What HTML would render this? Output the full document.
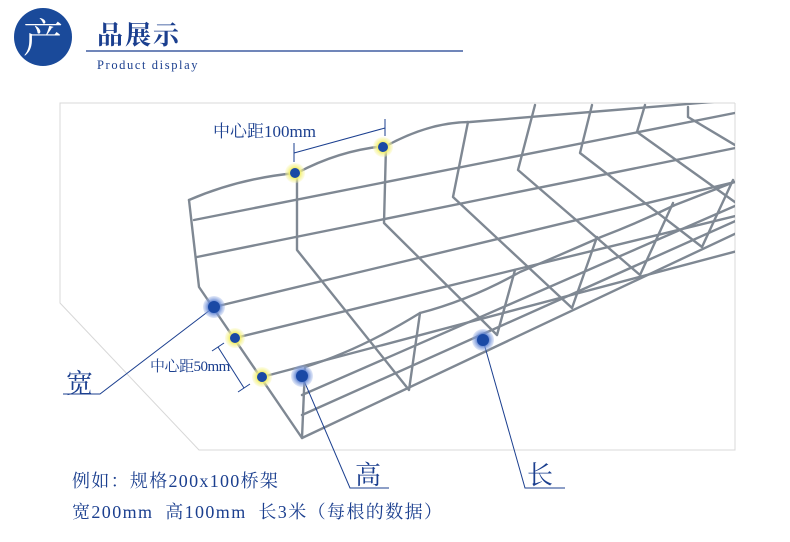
<!DOCTYPE html>
<html><head><meta charset="utf-8"><style>
html,body{margin:0;padding:0;background:#fff;}
body{width:790px;height:542px;overflow:hidden;position:relative;font-family:"Liberation Serif","Noto Serif CJK SC",serif;}
.t{position:absolute;color:#1b3f8f;white-space:nowrap;}
</style></head><body>
<svg width="790" height="542" style="position:absolute;left:0;top:0" xmlns="http://www.w3.org/2000/svg">
<defs>
<clipPath id="c"><polygon points="60,103 735,103 735,450 199,450 60,303"/></clipPath>
<radialGradient id="yg"><stop offset="0.5" stop-color="#f3f06a"/><stop offset="1" stop-color="#f7f5b0" stop-opacity="0.3"/></radialGradient>
<radialGradient id="bg"><stop offset="0.5" stop-color="#5a7fd0"/><stop offset="1" stop-color="#9bb2e6" stop-opacity="0.3"/></radialGradient>
</defs>
<circle cx="43" cy="37" r="29" fill="#1a4a9a"/>
<text x="43" y="52" font-size="40" fill="#fff" text-anchor="middle" font-family="Liberation Serif,Noto Serif CJK SC,serif">产</text>
<text x="97" y="44" font-size="26" fill="#1b3f8f" font-family="Liberation Serif,Noto Serif CJK SC,serif" font-weight="bold" letter-spacing="2">品展示</text>
<line x1="86" y1="51" x2="463" y2="51" stroke="#1b3f8f" stroke-width="1.2"/>
<text x="97" y="69" font-size="12.5" fill="#1b3f8f" letter-spacing="1.6">Product display</text>
<polyline points="735,103 60,103 60,303 199,450 735,450 735,103" fill="none" stroke="#d8d8d8" stroke-width="1"/>
<g clip-path="url(#c)" fill="none" stroke="#7f8893" stroke-width="2.4" stroke-linecap="round" stroke-linejoin="round">
<path d="M189,200 Q240,178 297,173 Q340,150 386,146 Q430,122 470,122 L760,98"/>
<path d="M194,220 L760,108"/>
<path d="M197,257 L760,143"/>
<path d="M214,307 L760,176"/>
<path d="M235,338 L760,210"/>
<path d="M262,377 L760,245"/>
<path d="M305,367 Q360,350 420,313 Q470,300 520,272 Q560,255 601,237 Q640,222 675,205 L760,172"/>
<path d="M302,395 L760,195"/>
<path d="M302,415 L760,210"/>
<path d="M302,438 L760,222"/>
<path d="M189,200 L199,287 L302,438 L305,367"/>
<path d="M297,173 L297,250 L409,390 L420,313"/>
<path d="M386,146 L384,223 L497,335 L515,270"/>
<path d="M468,122 L453,197 L572,308 L597,237"/>
<path d="M535,105 L518,170 L640,275 L673,203"/>
<path d="M592,105 L580,153 L702,247 L733,180"/>
<path d="M645,105 L637,132 L760,220"/>
<path d="M688,107 L688,117 L760,160"/>
</g>
<g stroke="#1b3f8f" stroke-width="1" fill="none">
<line x1="294" y1="153" x2="385" y2="128"/>
<line x1="294" y1="143" x2="294" y2="162"/>
<line x1="385" y1="119" x2="385" y2="136"/>
<line x1="218" y1="347" x2="244" y2="388"/>
<line x1="212" y1="351" x2="224" y2="343"/>
<line x1="238" y1="392" x2="250" y2="384"/>
<polyline points="63,394 100,394 214,307"/>
<polyline points="302,376 350,488 389,488"/>
<polyline points="483,340 525,488 565,488"/>
</g>
<g>
<circle cx="295" cy="173" r="10" fill="url(#yg)"/><circle cx="295" cy="173" r="5" fill="#1a49a5"/>
<circle cx="383" cy="147" r="10" fill="url(#yg)"/><circle cx="383" cy="147" r="5" fill="#1a49a5"/>
<circle cx="235" cy="338" r="10" fill="url(#yg)"/><circle cx="235" cy="338" r="5" fill="#1a49a5"/>
<circle cx="262" cy="377" r="10" fill="url(#yg)"/><circle cx="262" cy="377" r="5" fill="#1a49a5"/>
<circle cx="214" cy="307" r="11" fill="url(#bg)"/><circle cx="214" cy="307" r="6" fill="#1a49a5"/>
<circle cx="302" cy="376" r="11" fill="url(#bg)"/><circle cx="302" cy="376" r="6" fill="#1a49a5"/>
<circle cx="483" cy="340" r="11" fill="url(#bg)"/><circle cx="483" cy="340" r="6" fill="#1a49a5"/>
</g>
</svg>
<div class="t" style="left:213px;top:117px;font-size:17px;">中心距100mm</div>
<div class="t" style="left:150px;top:355px;font-size:15px;letter-spacing:-0.5px;">中心距50mm</div>
<div class="t" style="left:66px;top:362px;font-size:27px;">宽</div>
<div class="t" style="left:355px;top:455px;font-size:26px;">高</div>
<div class="t" style="left:527px;top:455px;font-size:26px;">长</div>
<div class="t" style="left:72px;top:467px;font-size:18px;letter-spacing:1.3px;">例如：规格200x100桥架</div>
<div class="t" style="left:72px;top:498px;font-size:18px;letter-spacing:1.4px;">宽200mm&nbsp; 高100mm&nbsp; 长3米（每根的数据）</div>
</body></html>
